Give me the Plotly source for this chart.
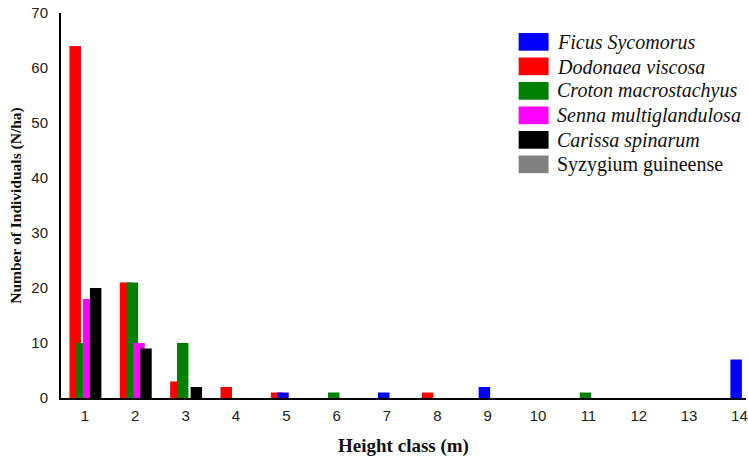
import plotly.graph_objects as go

# Height classes (m)
height_classes = list(range(1, 15))

# Density (N/ha) per species in each height class
ficus_sycomorus = [0, 0, 0, 0, 1, 0, 1, 0, 2, 0, 0, 0, 0, 7]
dodonaea_viscosa = [64, 21, 3, 2, 1, 0, 0, 1, 0, 0, 0, 0, 0, 0]
croton_macrostachyus = [10, 21, 10, 0, 0, 1, 0, 0, 0, 0, 1, 0, 0, 0]
senna_multiglandulosa = [18, 10, 0, 0, 0, 0, 0, 0, 0, 0, 0, 0, 0, 0]
carissa_spinarum = [20, 9, 2, 0, 0, 0, 0, 0, 0, 0, 0, 0, 0, 0]
syzygium_guineense = [0, 0, 0, 0, 0, 0, 0, 0, 0, 0, 0, 0, 0, 0]

species_names = ["Ficus Sycomorus", "Dodonaea viscosa", "Croton macrostachyus",
                 "Senna multiglandulosa", "Carissa spinarum", "Syzygium guineense"]
species_italic = [True, True, True, True, True, False]
species_colors = ["#0000FF", "#FF0000", "#008000", "#FF00FF", "#000000", "#808080"]
species_values = [ficus_sycomorus, dodonaea_viscosa, croton_macrostachyus,
                  senna_multiglandulosa, carissa_spinarum, syzygium_guineense]

# overlapping bar slots within a height class (offset from class centre, in class units)
bar_width = 0.228
slot_offsets = [-0.18, -0.307, -0.172, -0.04, 0.099, 0.099]
draw_order = [1, 0, 2, 3, 4, 5]

fig = go.Figure()
for i in draw_order:
    fig.add_trace(go.Bar(
        x=height_classes, y=species_values[i], name=species_names[i],
        marker=dict(color=species_colors[i], line=dict(width=0)),
        width=bar_width, offset=slot_offsets[i], showlegend=False,
    ))

# legend drawn as swatches + labels to the right of the plot
plot_left, plot_right, plot_top, plot_bottom = 61, 748, 13.3, 398.3
pw, ph = plot_right - plot_left, plot_bottom - plot_top

def px_x(v):
    return (v - plot_left) / pw

def px_y(v):
    return (plot_bottom - v) / ph

row_top, row_step = 33.3, 24.5
for k, (name, color, ital) in enumerate(zip(species_names, species_colors, species_italic)):
    top = row_top + k * row_step
    fig.add_shape(type="rect", xref="paper", yref="paper",
                  x0=px_x(520), x1=px_x(550), y0=px_y(top + 17.7), y1=px_y(top),
                  fillcolor=color, line=dict(width=0))
    fig.add_annotation(xref="paper", yref="paper", x=px_x(556), y=px_y(top + 9),
                       text=f"<i>{name}</i>" if ital else name, showarrow=False,
                       xanchor="left", yanchor="middle",
                       font=dict(family="Liberation Serif", size=20, color="#111111"))

fig.update_layout(
    width=748, height=460,
    margin=dict(l=plot_left, r=0, t=13, b=62),
    paper_bgcolor="white", plot_bgcolor="white",
    barmode="overlay",
    showlegend=False,
    font=dict(family="Liberation Sans", size=15, color="#222222"),
    xaxis=dict(
        range=[0.525, 14.13], tickmode="array", tickvals=height_classes,
        ticktext=[str(h) for h in height_classes],
        showgrid=False, zeroline=False, showline=True, linecolor="black", linewidth=2,
        ticks="", ticklabelstandoff=3, ticklabeloverflow="allow",
        title=dict(text="<b>Height class (m)</b>", standoff=16,
                   font=dict(family="Liberation Serif", size=19, color="#111111")),
    ),
    yaxis=dict(
        range=[0, 70], tickvals=list(range(0, 71, 10)),
        showgrid=False, zeroline=False, showline=True, linecolor="black", linewidth=2,
        ticks="", ticklabelstandoff=8,
        title=dict(text="<b>Number of Individuals (N/ha)</b>", standoff=6,
                   font=dict(family="Liberation Serif", size=15.5, color="#111111")),
    ),
)

fig.write_html("out.html")
